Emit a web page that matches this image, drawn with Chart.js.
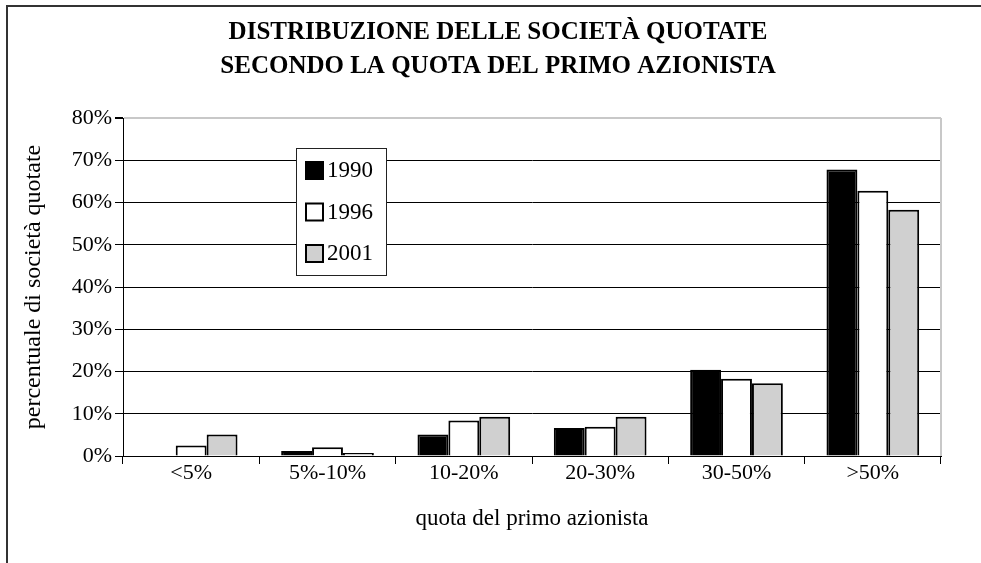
<!DOCTYPE html>
<html>
<head>
<meta charset="utf-8">
<script src="https://cdn.jsdelivr.net/npm/chart.js@4"></script>
<style>
  html, body { margin: 0; padding: 0; background: #fff; overflow: hidden; }
  #wrap { width: 981px; height: 563px; position: relative; }
</style>
</head>
<body>
<div id="wrap"><canvas id="chart" width="981" height="563"></canvas></div>
<script>
// categories and values (percent of listed companies)
const categories = ['<5%', '5%-10%', '10-20%', '20-30%', '30-50%', '>50%'];
const years = ['1990', '1996', '2001'];
const v1990 = [0, 1.2, 5.1, 6.6, 20.4, 67.8];
const v1996 = [2.5, 2.1, 8.4, 6.9, 18.3, 62.8];
const v2001 = [5.1, 0.7, 9.3, 9.3, 17.2, 58.3];
const yTicks = [0, 10, 20, 30, 40, 50, 60, 70, 80];

const titleLines = ['DISTRIBUZIONE DELLE SOCIETÀ QUOTATE', 'SECONDO LA QUOTA DEL PRIMO AZIONISTA'];
const SERIF = "'Liberation Serif', 'Times New Roman', serif";

// frame, title, plot border and the inner legend box
const decor = {
  id: 'decor',
  beforeDraw(chart){
    const c = chart.ctx;
    c.save();
    c.fillStyle = '#fff';
    c.fillRect(0, 0, chart.width, chart.height);
    c.strokeStyle = '#333';
    c.lineWidth = 2;
    c.beginPath();
    c.moveTo(7, chart.height + 2);
    c.lineTo(7, 6);
    c.lineTo(chart.width + 2, 6);
    c.stroke();
    c.fillStyle = '#000';
    c.font = 'bold 25px ' + SERIF;
    c.textAlign = 'center';
    c.textBaseline = 'middle';
    c.fillText(titleLines[0], 498, 33);
    c.fillText(titleLines[1], 498, 67);
    c.restore();
  },
  afterDatasetsDraw(chart){
    const c = chart.ctx, a = chart.chartArea;
    c.save();
    c.strokeStyle = '#c8c8c8';
    c.lineWidth = 2;
    c.beginPath();
    c.moveTo(a.right, a.top);
    c.lineTo(a.right, a.bottom);
    c.stroke();

    // legend
    const bx = a.left + 173, by = a.top + 30, bw = 90, bh = 127;
    c.fillStyle = '#fff';
    c.fillRect(bx, by, bw, bh);
    c.strokeStyle = '#222';
    c.lineWidth = 1;
    c.strokeRect(bx + 0.5, by + 0.5, bw, bh);
    c.font = '23px ' + SERIF;
    c.textBaseline = 'middle';
    c.textAlign = 'left';
    chart.data.datasets.forEach((ds, i) => {
      const cy = by + 22 + i * 41.5;
      c.fillStyle = ds.backgroundColor;
      c.fillRect(bx + 10, cy - 8, 17, 17);
      c.strokeStyle = '#000';
      c.lineWidth = 2;
      c.strokeRect(bx + 10, cy - 8, 17, 17);
      c.fillStyle = '#000';
      c.fillText(ds.label, bx + 31, cy + 1);
    });
    c.restore();
  }
};

const mk = (label, data, fill) => ({
  label, data,
  backgroundColor: fill,
  borderColor: '#000',
  borderWidth: 2,
  borderSkipped: 'bottom',
  categoryPercentage: 0.68,
  barPercentage: 1.0
});

new Chart(document.getElementById('chart'), {
  type: 'bar',
  data: {
    labels: categories,
    datasets: [
      mk(years[0], v1990, '#000000'),
      mk(years[1], v1996, '#ffffff'),
      mk(years[2], v2001, '#d0d0d0')
    ]
  },
  options: {
    responsive: false,
    animation: false,
    devicePixelRatio: 1,
    layout: { padding: { left: 19, top: 118, right: 40, bottom: 30 } },
    plugins: { legend: { display: false }, tooltip: { enabled: false } },
    scales: {
      x: {
        afterFit: s => { s.height = 77; },
        grid: { offset: true, drawOnChartArea: false, color: '#000', tickLength: 8, tickColor: '#000' },
        border: { color: '#000', width: 1 },
        ticks: { color: '#000', font: { family: SERIF, size: 22 }, padding: -4 },
        title: { display: true, text: 'quota del primo azionista', color: '#000',
                 font: { family: SERIF, size: 23 }, padding: 0 }
      },
      y: {
        min: 0, max: 80,
        afterFit: s => { s.width = 104; },
        afterBuildTicks: s => { s.ticks = yTicks.map(v => ({ value: v })); },
        grid: {
          color: ctx => ctx.tick && ctx.tick.value === 80 ? '#c8c8c8' : '#000',
          lineWidth: ctx => ctx.tick && ctx.tick.value === 80 ? 2 : 1,
          tickColor: '#000', tickLength: 8
        },
        border: { color: '#000', width: 1 },
        ticks: { color: '#000', font: { family: SERIF, size: 22 }, padding: 3,
                 callback: v => v + '%' },
        title: { display: true, text: 'percentuale di società quotate', color: '#000',
                 font: { family: SERIF, size: 24 }, padding: 0 }
      }
    }
  },
  plugins: [decor]
});
</script>
</body>
</html>
